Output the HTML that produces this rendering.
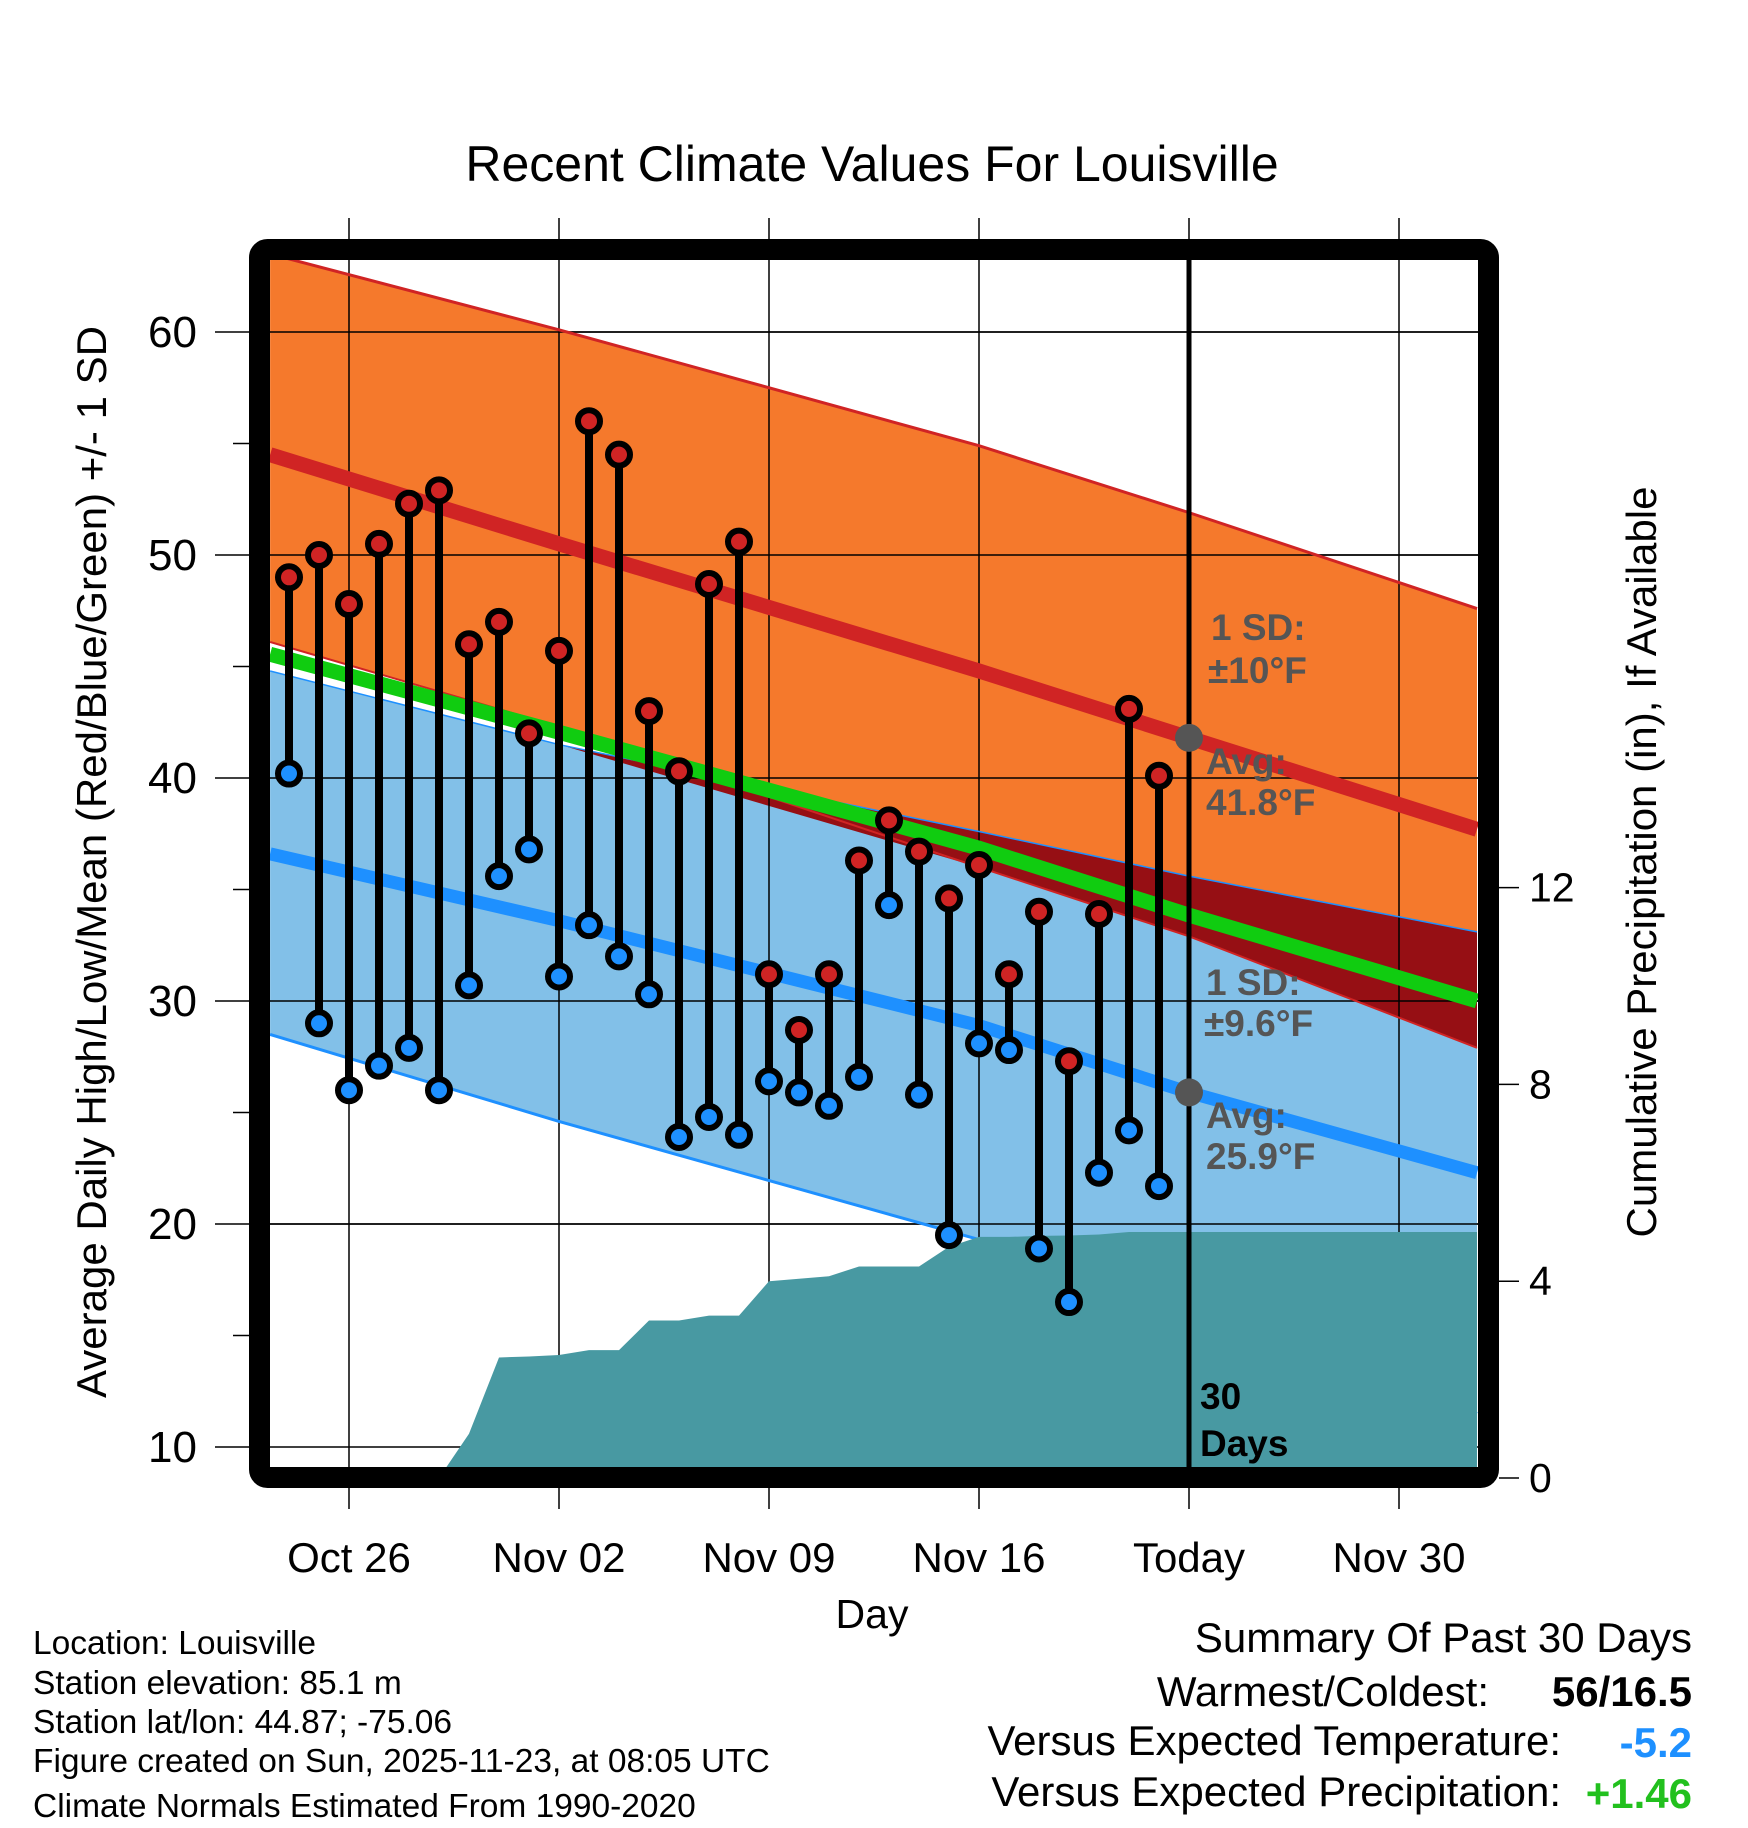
<!DOCTYPE html>
<html><head><meta charset="utf-8"><style>
body{margin:0;background:#fff;}
svg{display:block;font-family:"Liberation Sans",Arial,sans-serif;}
</style></head><body>
<svg id="chart" width="1748" height="1828" viewBox="0 0 1748 1828">
<defs><clipPath id="plotclip"><rect x="270" y="260" width="1208" height="1208"/></clipPath></defs>
<g id="plot" clip-path="url(#plotclip)"></g>
<g id="axes"></g>
<rect x="259.5" y="249.5" width="1229" height="1228" rx="8" fill="none" stroke="#000" stroke-width="21"/>
<text x="872" y="181" font-size="50" text-anchor="middle">Recent Climate Values For Louisville</text>
<text x="872" y="1628" font-size="41" text-anchor="middle">Day</text>
<text transform="translate(106,862) rotate(-90)" font-size="42" text-anchor="middle">Average Daily High/Low/Mean (Red/Blue/Green) +/- 1 SD</text>
<text transform="translate(1656,862) rotate(-90)" font-size="42" text-anchor="middle">Cumulative Precipitation (in), If Available</text>
<g font-size="37" fill="#555" font-weight="bold">
<text x="1211" y="640">1 SD:</text>
<text x="1208" y="683">±10°F</text>
<text x="1206" y="774">Avg:</text>
<text x="1206" y="815">41.8°F</text>
<text x="1206" y="995">1 SD:</text>
<text x="1204" y="1036">±9.6°F</text>
<text x="1206" y="1128">Avg:</text>
<text x="1206" y="1169">25.9°F</text>
</g>
<g font-size="37" font-weight="bold" fill="#000">
<text x="1200" y="1409">30</text><text x="1200" y="1456">Days</text>
</g>
<g font-size="33.5">
<text x="33" y="1654">Location: Louisville</text>
<text x="33" y="1694">Station elevation: 85.1 m</text>
<text x="33" y="1733">Station lat/lon: 44.87; -75.06</text>
<text x="33" y="1772">Figure created on Sun, 2025-11-23, at 08:05 UTC</text>
<text x="33" y="1817">Climate Normals Estimated From 1990-2020</text>
</g>
<g font-size="42">
<text x="1692" y="1652" text-anchor="end">Summary Of Past 30 Days</text>
<text x="1489" y="1706" text-anchor="end">Warmest/Coldest:</text>
<text x="1692" y="1706" text-anchor="end" font-weight="bold">56/16.5</text>
<text x="1561" y="1755" text-anchor="end">Versus Expected Temperature:</text>
<text x="1692" y="1757" text-anchor="end" font-weight="bold" fill="#1e90ff">-5.2</text>
<text x="1561" y="1806" text-anchor="end">Versus Expected Precipitation:</text>
<text x="1692" y="1808" text-anchor="end" font-weight="bold" fill="#22c01e">+1.46</text>
</g>
</svg>
<script>
// day index 0 = Oct 24
const highs=[49,50,47.8,50.5,52.3,52.9,46,47,42,45.7,56,54.5,43,40.3,48.7,50.6,31.2,28.7,31.2,36.3,38.1,36.7,34.6,36.1,31.2,34,27.3,33.9,43.1,40.1];
const lows=[40.2,29,26,27.1,27.9,26,30.7,35.6,36.8,31.1,33.4,32,30.3,23.9,24.8,24,26.4,25.9,25.3,26.6,34.3,25.8,19.5,28.1,27.8,18.9,16.5,22.3,24.2,21.7];
const precip=[0,0,0,0,0,0,0.9,2.45,2.47,2.5,2.6,2.6,3.2,3.2,3.3,3.3,4.0,4.05,4.1,4.3,4.3,4.3,4.7,4.9,4.9,4.92,4.93,4.95,5.0,5.0];
// normals at day positions
const normDays=[-0.63,9,23,30,39.6];
const highAvg=[54.5,50.5,44.8,41.8,37.7];
const highUp=[63.5,60.1,54.9,51.9,47.6];
const highDn=[46.1,42.3,36.0,32.9,27.9];
const lowAvg=[36.6,33.6,28.9,25.9,22.3];
const lowUp=[44.8,41.5,37.6,35.6,33.1];
const lowDn=[28.5,24.6,19.3,16.2,11.5];
const xTickDays=[2,9,16,23,30,37];
const xTickLabels=["Oct 26","Nov 02","Nov 09","Nov 16","Today","Nov 30"];
const yTicks=[10,20,30,40,50,60];
const pTicks=[0,4,8,12];
const todayDay=30;

const NS="http://www.w3.org/2000/svg";
const X=d=>349+(d-2)*30;
const Y=v=>332+(60-v)*22.3;
const P=p=>1478-p*49.2;
const plot=document.getElementById('plot'), axes=document.getElementById('axes');
function mk(tag,attrs,parent){const e=document.createElementNS(NS,tag);for(const k in attrs)e.setAttribute(k,attrs[k]);parent.appendChild(e);return e;}
const pts=(xs,ys)=>xs.map((d,i)=>X(d)+','+Y(ys[i])).join(' ');
const mean=highAvg.map((a,i)=>(a+lowAvg[i])/2);

let e;
for(const v of [10,20,30,40,50,60]){e=mk('line',{x1:270,x2:1478,y1:Y(v),y2:Y(v),stroke:'#000','stroke-width':1.5},plot);

}
e=mk('polygon',{points:pts(normDays,lowUp)+' '+pts(normDays.slice().reverse(),lowDn.slice().reverse()),fill:'#82c0e8'},plot);


e=mk('polygon',{points:pts(normDays,highUp)+' '+pts(normDays.slice().reverse(),highDn.slice().reverse()),fill:'#f5792c'},plot);


{let poly=normDays.map((d,i)=>X(d)+','+Y(lowUp[i])).join(' ')+' '+normDays.map((d,i)=>[d,Math.min(highDn[i],lowUp[i])]).reverse().map(p=>X(p[0])+','+Y(p[1])).join(' ');
e=mk('polygon',{points:poly,fill:'#960f14'},plot);

}
for(const v of [20,30,40,50,60]){mk('line',{x1:270,x2:1478,y1:Y(v),y2:Y(v),stroke:'#000','stroke-width':1.5},plot);}
for(const d of xTickDays){e=mk('line',{x1:X(d),x2:X(d),y1:218,y2:1509,stroke:'#000','stroke-width':1.5},plot);

}
e=mk('polyline',{points:pts(normDays,highUp),fill:'none',stroke:'#d02424','stroke-width':3},plot);


e=mk('polyline',{points:pts(normDays,highDn),fill:'none',stroke:'#d02424','stroke-width':2},plot);


e=mk('polyline',{points:pts(normDays,lowUp),fill:'none',stroke:'#1e90ff','stroke-width':1.5},plot);


e=mk('polyline',{points:pts(normDays,lowDn),fill:'none',stroke:'#1e90ff','stroke-width':3},plot);


e=mk('polyline',{points:pts(normDays,mean),fill:'none',stroke:'#10cc10','stroke-width':15},plot);


e=mk('polyline',{points:pts(normDays,highAvg),fill:'none',stroke:'#d02424','stroke-width':15},plot);


e=mk('polyline',{points:pts(normDays,lowAvg),fill:'none',stroke:'#1e90ff','stroke-width':13},plot);


{let s=X(0)+','+1500+' ';precip.forEach((p,i)=>{s+=X(i)+','+P(p)+' ';});s+=X(39.6)+','+P(precip[precip.length-1])+' '+X(39.6)+',1500';
e=mk('polygon',{points:s,fill:'#4899a2'},plot);

}
e=mk('line',{x1:X(todayDay),x2:X(todayDay),y1:250,y2:1478,stroke:'#000','stroke-width':5},plot);


e=mk('circle',{cx:X(todayDay),cy:Y(41.8),r:14,fill:'#555'},plot);


e=mk('circle',{cx:X(todayDay),cy:Y(25.9),r:14,fill:'#555'},plot);


highs.forEach((h,i)=>{
 e=mk('line',{x1:X(i),x2:X(i),y1:Y(h),y2:Y(lows[i]),stroke:'#000','stroke-width':8},plot);
 
 
 e=mk('circle',{cx:X(i),cy:Y(h),r:11,fill:'#d02424',stroke:'#000','stroke-width':6},plot);
 
 
 e=mk('circle',{cx:X(i),cy:Y(lows[i]),r:11,fill:'#1e90ff',stroke:'#000','stroke-width':6},plot);
 
 
});
for(const d of xTickDays){
 mk('line',{x1:X(d),x2:X(d),y1:218,y2:250,stroke:'#000','stroke-width':1.5},axes);
 mk('line',{x1:X(d),x2:X(d),y1:1478,y2:1509,stroke:'#000','stroke-width':1.5},axes);
}
xTickLabels.forEach((t,i)=>{e=mk('text',{x:X(xTickDays[i]),y:1572,'font-size':42,'text-anchor':'middle'},axes);e.textContent=t;

});
yTicks.forEach(v=>{mk('line',{x1:215,x2:250,y1:Y(v),y2:Y(v),stroke:'#000','stroke-width':1.5},axes);
 e=mk('text',{x:197,y:Y(v)+15,'font-size':44,'text-anchor':'end'},axes);e.textContent=v;
 
 });
for(let v=15;v<=55;v+=10){mk('line',{x1:233,x2:250,y1:Y(v),y2:Y(v),stroke:'#000','stroke-width':1.5},axes);}
pTicks.forEach(p=>{mk('line',{x1:1499,x2:1519,y1:P(p),y2:P(p),stroke:'#000','stroke-width':1.5},axes);
 e=mk('text',{x:1529,y:P(p)+14,'font-size':41},axes);e.textContent=p;
 
 });
</script>
</body></html>
